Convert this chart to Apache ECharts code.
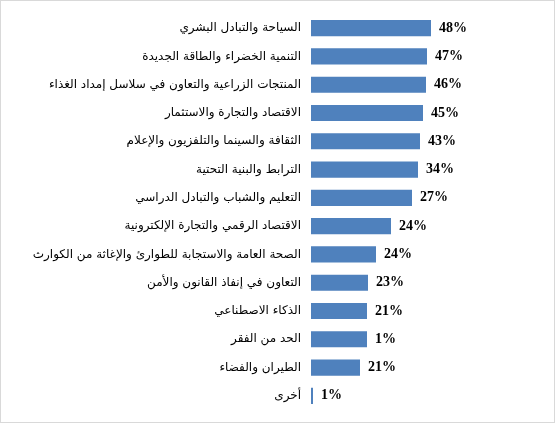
<!DOCTYPE html>
<html>
<head>
<meta charset="utf-8">
<script src="https://cdn.jsdelivr.net/npm/echarts@6/dist/echarts.min.js"></script>
<style>
  html, body { margin: 0; padding: 0; background: #fff; }
  #chart { width: 555px; height: 423px; box-sizing: border-box; border: 1px solid #d9d9d9; }
</style>
</head>
<body>
<div id="chart"></div>
<script>
// categories, top to bottom
const categories = [
    'السياحة والتبادل البشري',
    'التنمية الخضراء والطاقة الجديدة',
    'المنتجات الزراعية والتعاون في سلاسل إمداد الغذاء',
    'الاقتصاد والتجارة والاستثمار',
    'الثقافة والسينما والتلفزيون والإعلام',
    'الترابط والبنية التحتية',
    'التعليم والشباب والتبادل الدراسي',
    'الاقتصاد الرقمي والتجارة الإلكترونية',
    'الصحة العامة والاستجابة للطوارئ والإغاثة من الكوارث',
    'التعاون في إنفاذ القانون والأمن',
    'الذكاء الاصطناعي',
    'الحد من الفقر',
    'الطيران والفضاء',
    'أخرى'
];

// bar lengths as drawn in the picture
const barValues = [48, 46.4, 46, 44.8, 43.6, 42.8, 40.4, 32, 26, 22.8, 22.4, 22.4, 19.6, 0.8];

// labels printed next to the bars
const valueLabels = ['48%', '47%', '46%', '45%', '43%', '34%', '27%', '24%', '24%', '23%', '21%', '1%', '21%', '1%'];

const chart = echarts.init(document.getElementById('chart'));

chart.setOption({
    animation: false,
    grid: {
        left: 310,
        right: 43,
        top: 13,
        bottom: 12,
        containLabel: false
    },
    xAxis: {
        type: 'value',
        min: 0,
        max: 80,
        show: false
    },
    yAxis: {
        type: 'category',
        inverse: true,
        data: categories,
        axisLine: { show: false },
        axisTick: { show: false },
        axisLabel: {
            margin: 10,
            color: '#000',
            fontFamily: 'DejaVu Sans',
            fontSize: 12
        }
    },
    series: [{
        type: 'bar',
        data: barValues,
        barCategoryGap: '43%',
        itemStyle: { color: '#4F81BD' },
        label: {
            show: true,
            position: 'right',
            distance: 8,
            color: '#000',
            fontFamily: 'Liberation Serif',
            fontWeight: 'bold',
            fontSize: 14,
            formatter: p => valueLabels[p.dataIndex]
        }
    }]
});
</script>
</body>
</html>
